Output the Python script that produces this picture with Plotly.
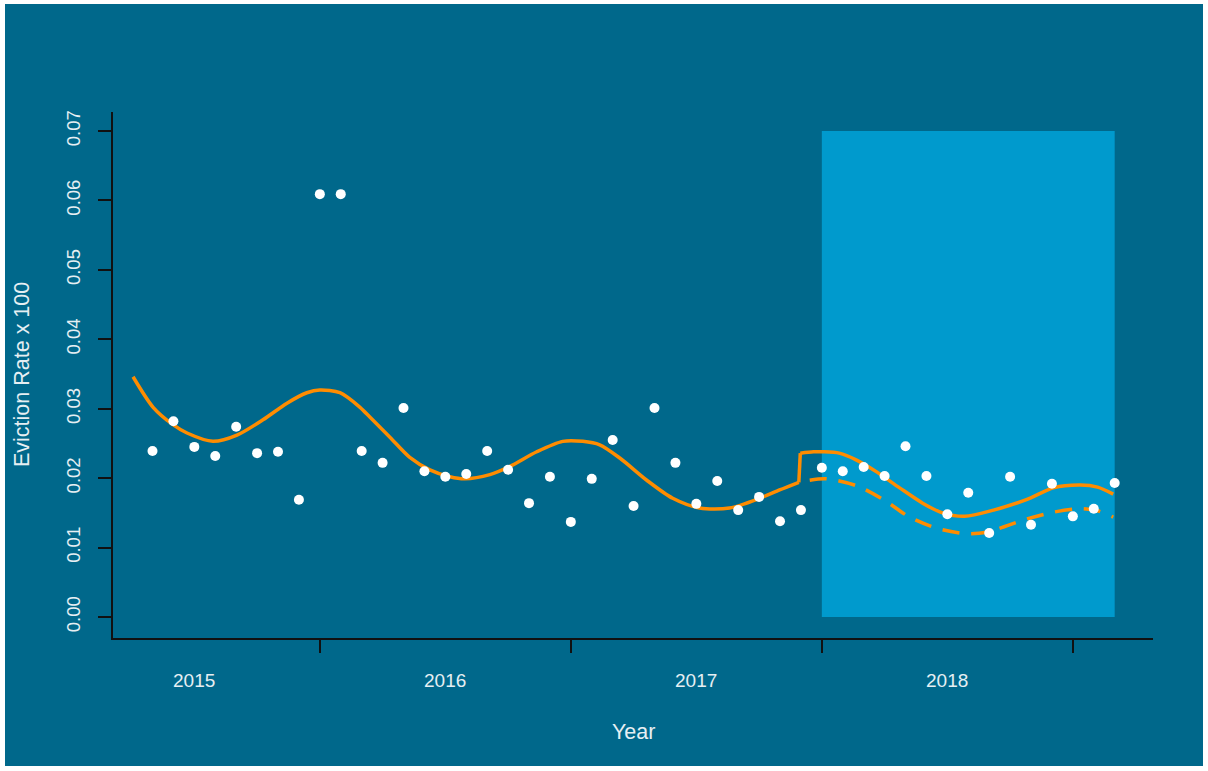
import plotly.graph_objects as go

# Monthly eviction rate observations (month index 0..46)
month = list(range(47))
rate = [0.0239, 0.0282, 0.0245, 0.0232, 0.0274, 0.0236, 0.0238, 0.0169,
        0.0609, 0.0609, 0.0239, 0.0222, 0.0301, 0.0210, 0.0202, 0.0206,
        0.0239, 0.0212, 0.0164, 0.0202, 0.0137, 0.0199, 0.0255, 0.0160,
        0.0301, 0.0222, 0.0163, 0.0196, 0.0154, 0.0173, 0.0138, 0.0154,
        0.0215, 0.0210, 0.0216, 0.0203, 0.0246, 0.0203, 0.0148, 0.0179,
        0.0121, 0.0202, 0.0133, 0.0192, 0.0145, 0.0156, 0.0193]

# Fitted trend before the intervention
fit_pre_x = [-0.93, 0.03, 0.98, 1.65, 2.89, 4.04, 5.28, 6.43, 7.38, 8.0, 8.96,
             9.92, 10.39, 11.35, 12.3, 13.26, 14.22, 14.93, 16.13, 17.09, 18.37,
             19.61, 20.57, 21.38, 22.34, 23.63, 24.87, 26.16, 27.59, 29.03,
             29.98, 30.9]
fit_pre_y = [0.0346, 0.0302, 0.0277, 0.0265, 0.0253, 0.0262, 0.0284, 0.0308,
             0.0323, 0.0327, 0.0323, 0.0302, 0.0288, 0.0259, 0.0230, 0.0212,
             0.0202, 0.0199, 0.0205, 0.0217, 0.0238, 0.0253, 0.0253, 0.0248,
             0.0229, 0.0197, 0.0171, 0.0157, 0.0157, 0.0171, 0.0183, 0.0194]

# Fitted trend after the intervention
fit_post_x = [30.97, 31.6, 32.03, 32.83, 33.66, 34.62, 35.72, 36.82, 37.77,
              38.83, 40.21, 41.78, 43.07, 44.36, 45.18, 45.93]
fit_post_y = [0.0236, 0.0238, 0.0238, 0.0236, 0.0226, 0.0209, 0.0186, 0.0164,
              0.0150, 0.0145, 0.0154, 0.0169, 0.0186, 0.0190, 0.0187, 0.0177]

# Counterfactual trend (no intervention)
cf_x = [31.42, 32.23, 33.66, 34.95, 36.19, 37.48, 38.92, 39.87, 41.78, 43.07,
        44.36, 45.18, 45.93]
cf_y = [0.0197, 0.0199, 0.0189, 0.0169, 0.0144, 0.0128, 0.0120, 0.0122,
        0.0141, 0.0151, 0.0156, 0.0153, 0.0144]

# Intervention window
window_start, window_end = 32, 46
window_top = 0.07

year_labels = ["2015", "2016", "2017", "2018"]
year_label_pos = [2, 14, 26, 38]
year_ticks = [8, 20, 32, 44]
y_ticks = [0.00, 0.01, 0.02, 0.03, 0.04, 0.05, 0.06, 0.07]

BG = "#00688B"
WINDOW = "#009ACD"
ORANGE = "#FF8C00"
TEXT = "#E6EFF3"
FONT = "Liberation Sans, Arial, sans-serif"

W, H = 1208, 771
L, R, T, B = 113, 55, 112, 133
PW, PH = W - L - R, H - T - B


def px_x(p):
    return (p - L) / PW


def px_y(p):
    return (H - B - p) / PH


fig = go.Figure()

fig.add_trace(go.Scatter(x=fit_pre_x, y=fit_pre_y, mode="lines",
                         line=dict(color=ORANGE, width=3.5, shape="spline", smoothing=0.8),
                         hoverinfo="skip"))
fig.add_trace(go.Scatter(x=[fit_pre_x[-1], fit_post_x[0]], y=[fit_pre_y[-1], fit_post_y[0]],
                         mode="lines", line=dict(color=ORANGE, width=3.5), hoverinfo="skip"))
fig.add_trace(go.Scatter(x=fit_post_x, y=fit_post_y, mode="lines",
                         line=dict(color=ORANGE, width=3.5, shape="spline", smoothing=0.8),
                         hoverinfo="skip"))
fig.add_trace(go.Scatter(x=cf_x, y=cf_y, mode="lines",
                         line=dict(color=ORANGE, width=3.5, shape="spline", smoothing=0.8,
                                   dash="17px,12px"),
                         hoverinfo="skip"))
fig.add_trace(go.Scatter(x=month, y=rate, mode="markers",
                         marker=dict(color="white", size=10, line=dict(width=0))))

# page background with thin white frame
fig.add_shape(type="rect", xref="paper", yref="paper", layer="below",
              x0=px_x(5), x1=px_x(1203), y0=px_y(766), y1=px_y(4),
              fillcolor=BG, line=dict(width=0))
fig.add_shape(type="rect", xref="x", yref="y", layer="below",
              x0=window_start, x1=window_end, y0=0, y1=window_top,
              fillcolor=WINDOW, line=dict(width=0))

for lab, pos in zip(year_labels, year_label_pos):
    fig.add_annotation(x=pos, y=px_y(680), xref="x", yref="paper", text=lab,
                       showarrow=False, font=dict(color=TEXT, size=19, family=FONT),
                       xanchor="center", yanchor="middle")

fig.add_annotation(x=px_x(633), y=px_y(732), xref="paper", yref="paper", text="Year",
                   showarrow=False, font=dict(color=TEXT, size=21.5, family=FONT),
                   xanchor="center", yanchor="middle")
fig.add_annotation(x=px_x(22), y=px_y(375), xref="paper", yref="paper",
                   text="Eviction Rate x 100", textangle=-90,
                   showarrow=False, font=dict(color=TEXT, size=21.5, family=FONT),
                   xanchor="center", yanchor="middle")

fig.update_layout(
    width=W, height=H,
    margin=dict(l=L, r=R, t=T, b=B, pad=0),
    paper_bgcolor="white",
    plot_bgcolor="rgba(0,0,0,0)",
    showlegend=False,
    font=dict(family=FONT, color=TEXT),
    xaxis=dict(range=[(L - 152.5) / 20.917, (W - R - 152.5) / 20.917],
               tickvals=year_ticks, showticklabels=False,
               ticks="outside", ticklen=13, tickwidth=1.5, tickcolor="#111111",
               showline=True, linecolor="#111111", linewidth=1.5,
               showgrid=False, zeroline=False),
    yaxis=dict(range=[-0.00302, 0.07273],
               tickvals=y_ticks, ticktext=[f"{v:.2f}" for v in y_ticks],
               tickangle=-90, tickfont=dict(size=18.5, color=TEXT, family=FONT),
               ticks="outside", ticklen=13, tickwidth=1.5, tickcolor="#111111",
               ticklabelstandoff=11,
               showline=True, linecolor="#111111", linewidth=1.5,
               showgrid=False, zeroline=False),
)

fig.write_html("out.html")
